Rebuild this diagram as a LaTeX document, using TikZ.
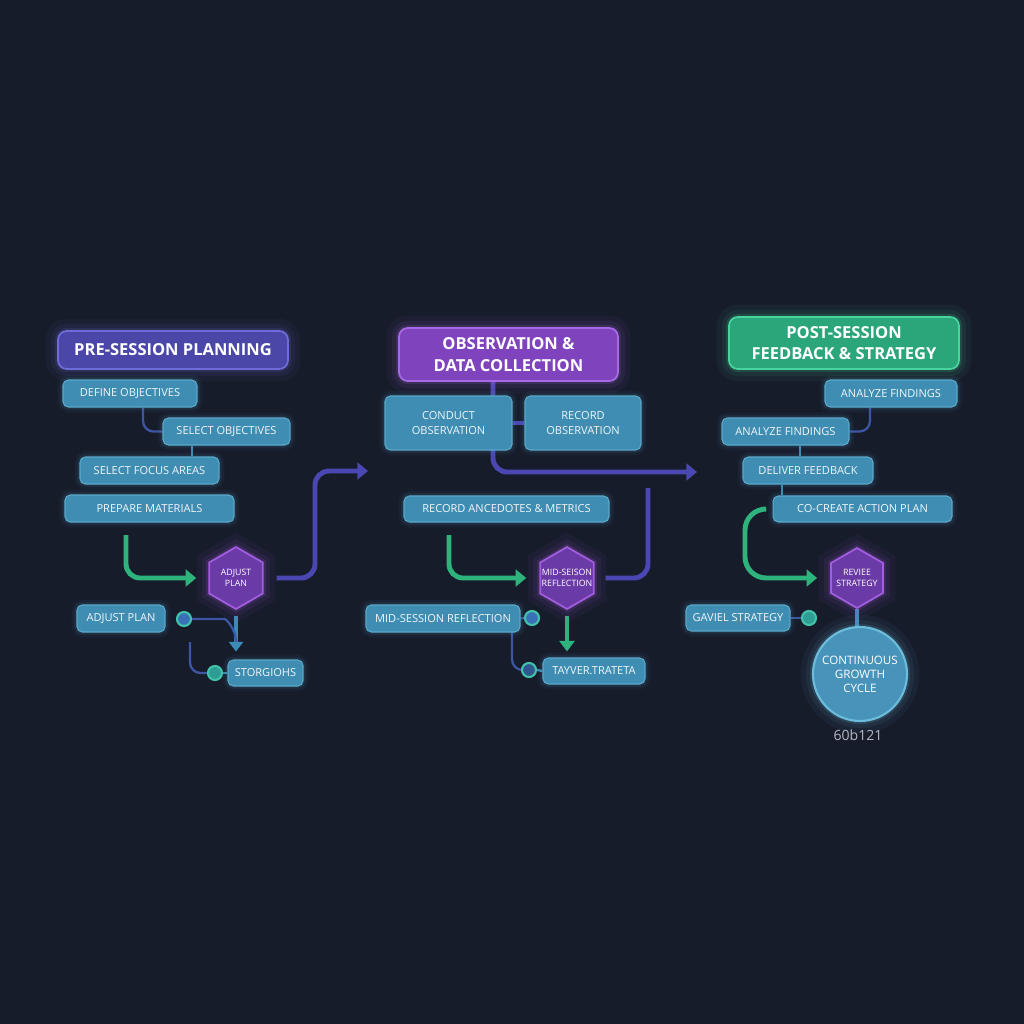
\documentclass[tikz,border=0pt]{standalone}
\usepackage{fontspec}
\setmainfont{Open Sans}
\usetikzlibrary{arrows.meta, shapes.geometric, calc, backgrounds}
\definecolor{bgnavy}{HTML}{171C2B}
\definecolor{taskfill}{HTML}{3F8DB2}
\definecolor{taskline}{HTML}{5AAACB}
\definecolor{planfill}{HTML}{4A47A8}
\definecolor{planline}{HTML}{6F6CDA}
\definecolor{obsfill}{HTML}{8043BE}
\definecolor{obsline}{HTML}{A86AE6}
\definecolor{postfill}{HTML}{2BA67B}
\definecolor{postline}{HTML}{48D49D}
\definecolor{hexfill}{HTML}{6A3AA6}
\definecolor{hexline}{HTML}{A35DE0}
\definecolor{flowgreen}{HTML}{2FB37C}
\definecolor{flowindigo}{HTML}{4B47B2}
\definecolor{linkblue}{HTML}{3D55A2}
\definecolor{linkteal}{HTML}{3E8AB6}
\definecolor{dotblue}{HTML}{3A70B8}
\definecolor{dotteal}{HTML}{2E9E94}
\definecolor{dotrim}{HTML}{42C2AA}
\definecolor{cyclefill}{HTML}{4893B9}
\definecolor{cycleline}{HTML}{6CBCDC}
\definecolor{tagtext}{HTML}{B4B8C4}
\tikzset{
  glow/.style={preaction={draw=#1,line width=14pt,opacity=0.05},
               preaction={draw=#1,line width=8pt,opacity=0.08},
               preaction={draw=#1,line width=3.5pt,opacity=0.15}},
  softglow/.style={preaction={draw=#1,line width=6pt,opacity=0.05},
                   preaction={draw=#1,line width=3pt,opacity=0.1}},
  task/.style={rectangle,rounded corners=3pt,draw=taskline,fill=taskfill,line width=0.6pt,text=white!92!taskfill,font=\fontsize{6.3}{8.8}\selectfont,align=center,minimum height=0.54cm,inner sep=1pt,softglow=taskline},
  phase/.style={rectangle,rounded corners=5pt,line width=1pt,text=white,font=\bfseries\fontsize{9.4}{12.4}\selectfont,align=center,inner sep=1pt},
  hexa/.style={regular polygon,regular polygon sides=6,shape border rotate=30,minimum size=1.24cm,inner sep=0pt,draw=hexline,fill=hexfill,line width=1pt,glow=hexline},
  hextext/.style={text=white,font=\fontsize{5}{6.3}\selectfont,align=center,inner sep=0pt},
  dot/.style={circle,minimum size=0.28cm,inner sep=0pt,line width=1.2pt,draw=dotrim},
  flow/.style={line width=2.8pt,rounded corners=8pt,-{Triangle[width=9.5pt,length=6pt]}},
  link/.style={line width=1.3pt,rounded corners=6pt}
}

\begin{document}
\begin{tikzpicture}[x=0.02cm,y=-0.02cm]
  \useasboundingbox (0,0) rectangle (1024,1024);

  % phase headers
  \node[phase,draw=planline,fill=planfill,glow=planline,minimum width=4.6cm,minimum height=0.76cm] (head1) at (173,350) {PRE-SESSION PLANNING};
  \node[phase,draw=obsline,fill=obsfill,glow=obsline,minimum width=4.38cm,minimum height=1.06cm] (head2) at (508.5,354.5) {OBSERVATION \&\\DATA COLLECTION};
  \node[phase,draw=postline,fill=postfill,glow=postline,minimum width=4.6cm,minimum height=1.04cm] (head3) at (844,343) {POST-SESSION\\FEEDBACK \& STRATEGY};

  % pre-session
  \node[task,minimum width=2.68cm] (define) at (130,393.5) {DEFINE OBJECTIVES};
  \node[task,minimum width=2.54cm] (selobj) at (226.5,431.5) {SELECT OBJECTIVES};
  \node[task,minimum width=2.78cm] (focus) at (149.5,470.5) {SELECT FOCUS AREAS};
  \node[task,minimum width=3.38cm] (prep) at (149.5,508.5) {PREPARE MATERIALS};
  \node[hexa,label={[hextext]center:ADJUST\\PLAN}] (hex1) at (236,578) {};
  \node[task,minimum width=1.76cm] (adjust) at (121,618.5) {ADJUST PLAN};
  \node[dot,fill=dotblue] (c1) at (184,619) {};
  \node[dot,fill=dotteal] (c2) at (215,673) {};
  \node[task,minimum width=1.5cm,minimum height=0.52cm] (storg) at (265.5,673) {STORGIOHS};

  % observation
  \node[task,minimum width=2.54cm,minimum height=1.08cm] (conduct) at (448.5,423) {CONDUCT\\OBSERVATION};
  \node[task,minimum width=2.32cm,minimum height=1.08cm] (recobs) at (583,423) {RECORD\\OBSERVATION};
  \node[task,minimum width=4.1cm,minimum height=0.52cm] (anec) at (506.5,509) {RECORD ANCEDOTES \& METRICS};
  \node[hexa,label={[hextext]center:MID-SEISON\\REFLECTION}] (hex2) at (567,578) {};
  \node[task,minimum width=3.08cm] (midbox) at (443,618.5) {MID-SESSION REFLECTION};
  \node[dot,fill=dotblue] (c3) at (532,618) {};
  \node[dot,fill=dotblue!70!bgnavy] (c4) at (529,670) {};
  \node[task,minimum width=2.04cm,minimum height=0.52cm] (tayver) at (594,671) {TAYVER.TRATETA};

  % post-session
  \node[task,minimum width=2.64cm] (an1) at (891,393.5) {ANALYZE FINDINGS};
  \node[task,minimum width=2.54cm] (an2) at (785.5,431.5) {ANALYZE FINDINGS};
  \node[task,minimum width=2.6cm] (deliver) at (808,470.5) {DELIVER FEEDBACK};
  \node[task,minimum width=3.58cm,minimum height=0.52cm] (cocreate) at (862.5,509) {CO-CREATE ACTION PLAN};
  \node[hexa,minimum size=1.2cm,label={[hextext]center:REVIEE\\STRATEGY}] (hex3) at (857,578) {};
  \node[task,minimum width=2.08cm,minimum height=0.52cm] (gaviel) at (738,618) {GAVIEL STRATEGY};
  \node[dot,fill=dotteal] (c5) at (809,618) {};
  \node[circle,minimum size=1.88cm,inner sep=0pt,draw=cycleline,fill=cyclefill,line width=1.2pt,glow=cycleline,text=white,font=\fontsize{6.6}{8}\selectfont,align=center] (cycle) at (860,674) {CONTINUOUS\\GROWTH\\CYCLE};
  \node[text=tagtext,font=\fontsize{8}{9}\selectfont] (tag) at (858,735) {60b121};

  \coordinate (g1) at (126,535);
  \coordinate (x1) at (368,471);
  \coordinate (b1) at (190,642);
  \coordinate (m1) at (236,642);
  \coordinate (g2) at (449,535);
  \coordinate (x2) at (697,472);
  \coordinate (e2) at (648,488);
  \coordinate (b2) at (512,632);
  \coordinate (g3) at (765,509);
  \coordinate (s1) at ([xshift=0.26cm]define.south);
  \coordinate (s2) at ([xshift=-0.69cm]selobj.south);
  \coordinate (s3) at ([xshift=-0.31cm]head2.south);
  \coordinate (s4) at ([xshift=-0.42cm]an1.south);
  \coordinate (s5) at ([xshift=0.29cm]an2.south);
  \coordinate (s6) at ([xshift=-0.52cm]deliver.south);

  \begin{scope}[on background layer]
    \fill[bgnavy] (0,0) rectangle (1024,1024);

    \draw[link,linkblue] (s1) |- (selobj.west);
    \draw[link,linkteal] (s2) -- (s2 |- focus.north);
    \draw[flow,flowgreen,shorten >=0.24cm] (g1) |- (hex1.west);
    \draw[flow,flowindigo,shorten <=0.26cm] (hex1.east) -- (315,578) -- (315,471) -- (x1);
    \draw[flow,linkteal,line width=2.2pt,-{Triangle[width=8pt,length=5.5pt]},shorten <=0.12cm,shorten >=0.16cm] (hex1.south) -- (hex1.south |- storg.north);
    \draw[link,linkblue] (c1.east) -- (214,619) to[out=0,in=90] (m1);
    \draw[link,linkblue] (b1) |- (c2.west);
    \draw[link,linkteal] (c2.east) -- (storg.west);

    \draw[flow,flowindigo] (s3) |- (x2);
    \draw[link,flowindigo,line width=2pt] (conduct.east) -- (recobs.west);
    \draw[flow,flowgreen,shorten >=0.26cm] (g2) |- (hex2.west);
    \draw[link,flowindigo,line width=2.8pt,rounded corners=8pt,shorten <=0.22cm] (hex2.east) -| (e2);
    \draw[link,linkblue] (midbox.east) -- (c3.west);
    \draw[flow,flowgreen,line width=2.4pt,-{Triangle[width=8.5pt,length=6pt]},shorten <=0.12cm,shorten >=0.12cm] (hex2.south) -- (hex2.south |- tayver.north);
    \draw[link,linkblue] (b2) |- (c4.west);
    \draw[link,linkteal] (c4.east) -- (tayver.west);

    \draw[link,linkblue] (s4) |- (an2.east);
    \draw[link,linkteal] (s5) -- (s5 |- deliver.north);
    \draw[link,linkteal] (s6) -- (s6 |- cocreate.north);
    \draw[flow,flowgreen,rounded corners=12pt,shorten >=0.26cm] (g3) -- (745,509) |- (hex3.west);
    \draw[link,linkblue] (gaviel.east) -- (c5.west);
    \draw[link,linkteal,line width=1.8pt] (hex3.south) -- (hex3.south |- cycle.north);
  \end{scope}
\end{tikzpicture}
\end{document}
